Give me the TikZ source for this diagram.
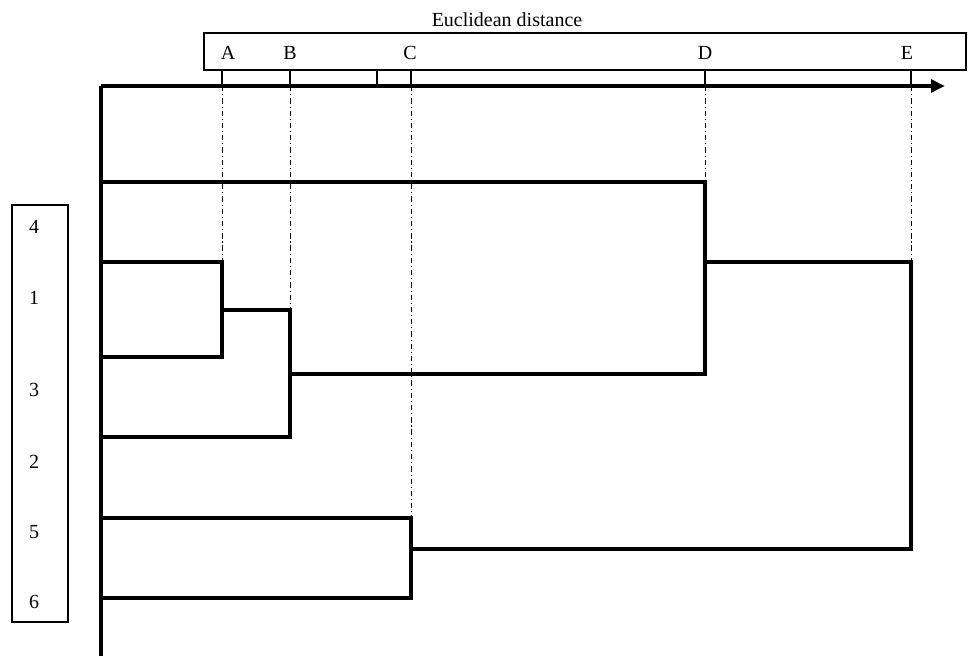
\documentclass[tikz,border=0pt]{standalone}
\usepackage{fontspec}
\setmainfont{Liberation Serif}
\usetikzlibrary{arrows.meta}
\begin{document}
\begin{tikzpicture}[x=0.75pt,y=-0.75pt,
  lbl/.style={font=\fontsize{15}{18}\selectfont, inner sep=0pt},
  framebox/.style={draw, line width=0.8pt},
  axisline/.style={line width=2.6pt},
  link/.style={line width=3.4pt, line cap=rect},
  tick/.style={line width=0.8pt},
  guide/.style={line width=0.6pt, dash pattern=on 4pt off 2.2pt on 0.8pt off 2.2pt}]
\useasboundingbox (0,0) rectangle (968,656);

% scale frame and caption
\draw[framebox] (204,33) rectangle (966,70);
\node[lbl] (title) at (507,20) {Euclidean distance};

% distance levels
\coordinate (xA) at (222,86);
\coordinate (xB) at (290,86);
\coordinate (xM) at (377,86);
\coordinate (xC) at (411,86);
\coordinate (xD) at (705,86);
\coordinate (xE) at (911,86);
\node[lbl] (lA) at (228,53) {A};
\node[lbl] (lB) at (290,53) {B};
\node[lbl] (lC) at (410,53) {C};
\node[lbl] (lD) at (705,53) {D};
\node[lbl] (lE) at (907,53) {E};
\foreach \p in {xA,xB,xM,xC,xD,xE}
  \draw[tick] (\p) -- ++(0,-16);

% axes
\coordinate (origin) at (101,86);
\coordinate (xend) at (945,86);
\coordinate (ybottom) at (101,656);
\draw[axisline, -{Triangle[length=10.5pt,width=9.5pt]}] (origin) -- (xend);
\draw[axisline] (origin) -- (ybottom);

% object list
\draw[framebox] (12,205) rectangle (68,622);
\node[lbl] (n4) at (34,227) {4};
\node[lbl] (n1) at (34,298) {1};
\node[lbl] (n3) at (34,390) {3};
\node[lbl] (n2) at (34,462) {2};
\node[lbl] (n5) at (34,532) {5};
\node[lbl] (n6) at (34,602) {6};

% leaves on the axis
\coordinate (o4) at (101,182);
\coordinate (o1) at (101,262);
\coordinate (o3) at (101,357);
\coordinate (o2) at (101,437);
\coordinate (o5) at (101,518);
\coordinate (o6) at (101,598);

% merge points
\coordinate (a1) at (222,262);
\coordinate (a3) at (222,357);
\coordinate (aM) at (222,310);
\coordinate (b1) at (290,310);
\coordinate (b2) at (290,437);
\coordinate (bM) at (290,374);
\coordinate (d4) at (705,182);
\coordinate (dB) at (705,374);
\coordinate (dM) at (705,262);
\coordinate (c5) at (411,518);
\coordinate (c6) at (411,598);
\coordinate (cM) at (411,549);
\coordinate (eD) at (911,262);
\coordinate (eC) at (911,549);

% dendrogram
\draw[link] (o1) -- (a1) -- (a3) -- (o3);
\draw[link] (aM) -- (b1) -- (b2) -- (o2);
\draw[link] (o4) -- (d4) -- (dB) -- (bM);
\draw[link] (o5) -- (c5) -- (c6) -- (o6);
\draw[link] (dM) -- (eD) -- (eC) -- (cM);

% level guides
\draw[guide] (xA) -- (a1);
\draw[guide] (xB) -- (b1);
\draw[guide] (xC) -- (c5);
\draw[guide] (xD) -- (d4);
\draw[guide] (xE) -- (eD);
\end{tikzpicture}
\end{document}
